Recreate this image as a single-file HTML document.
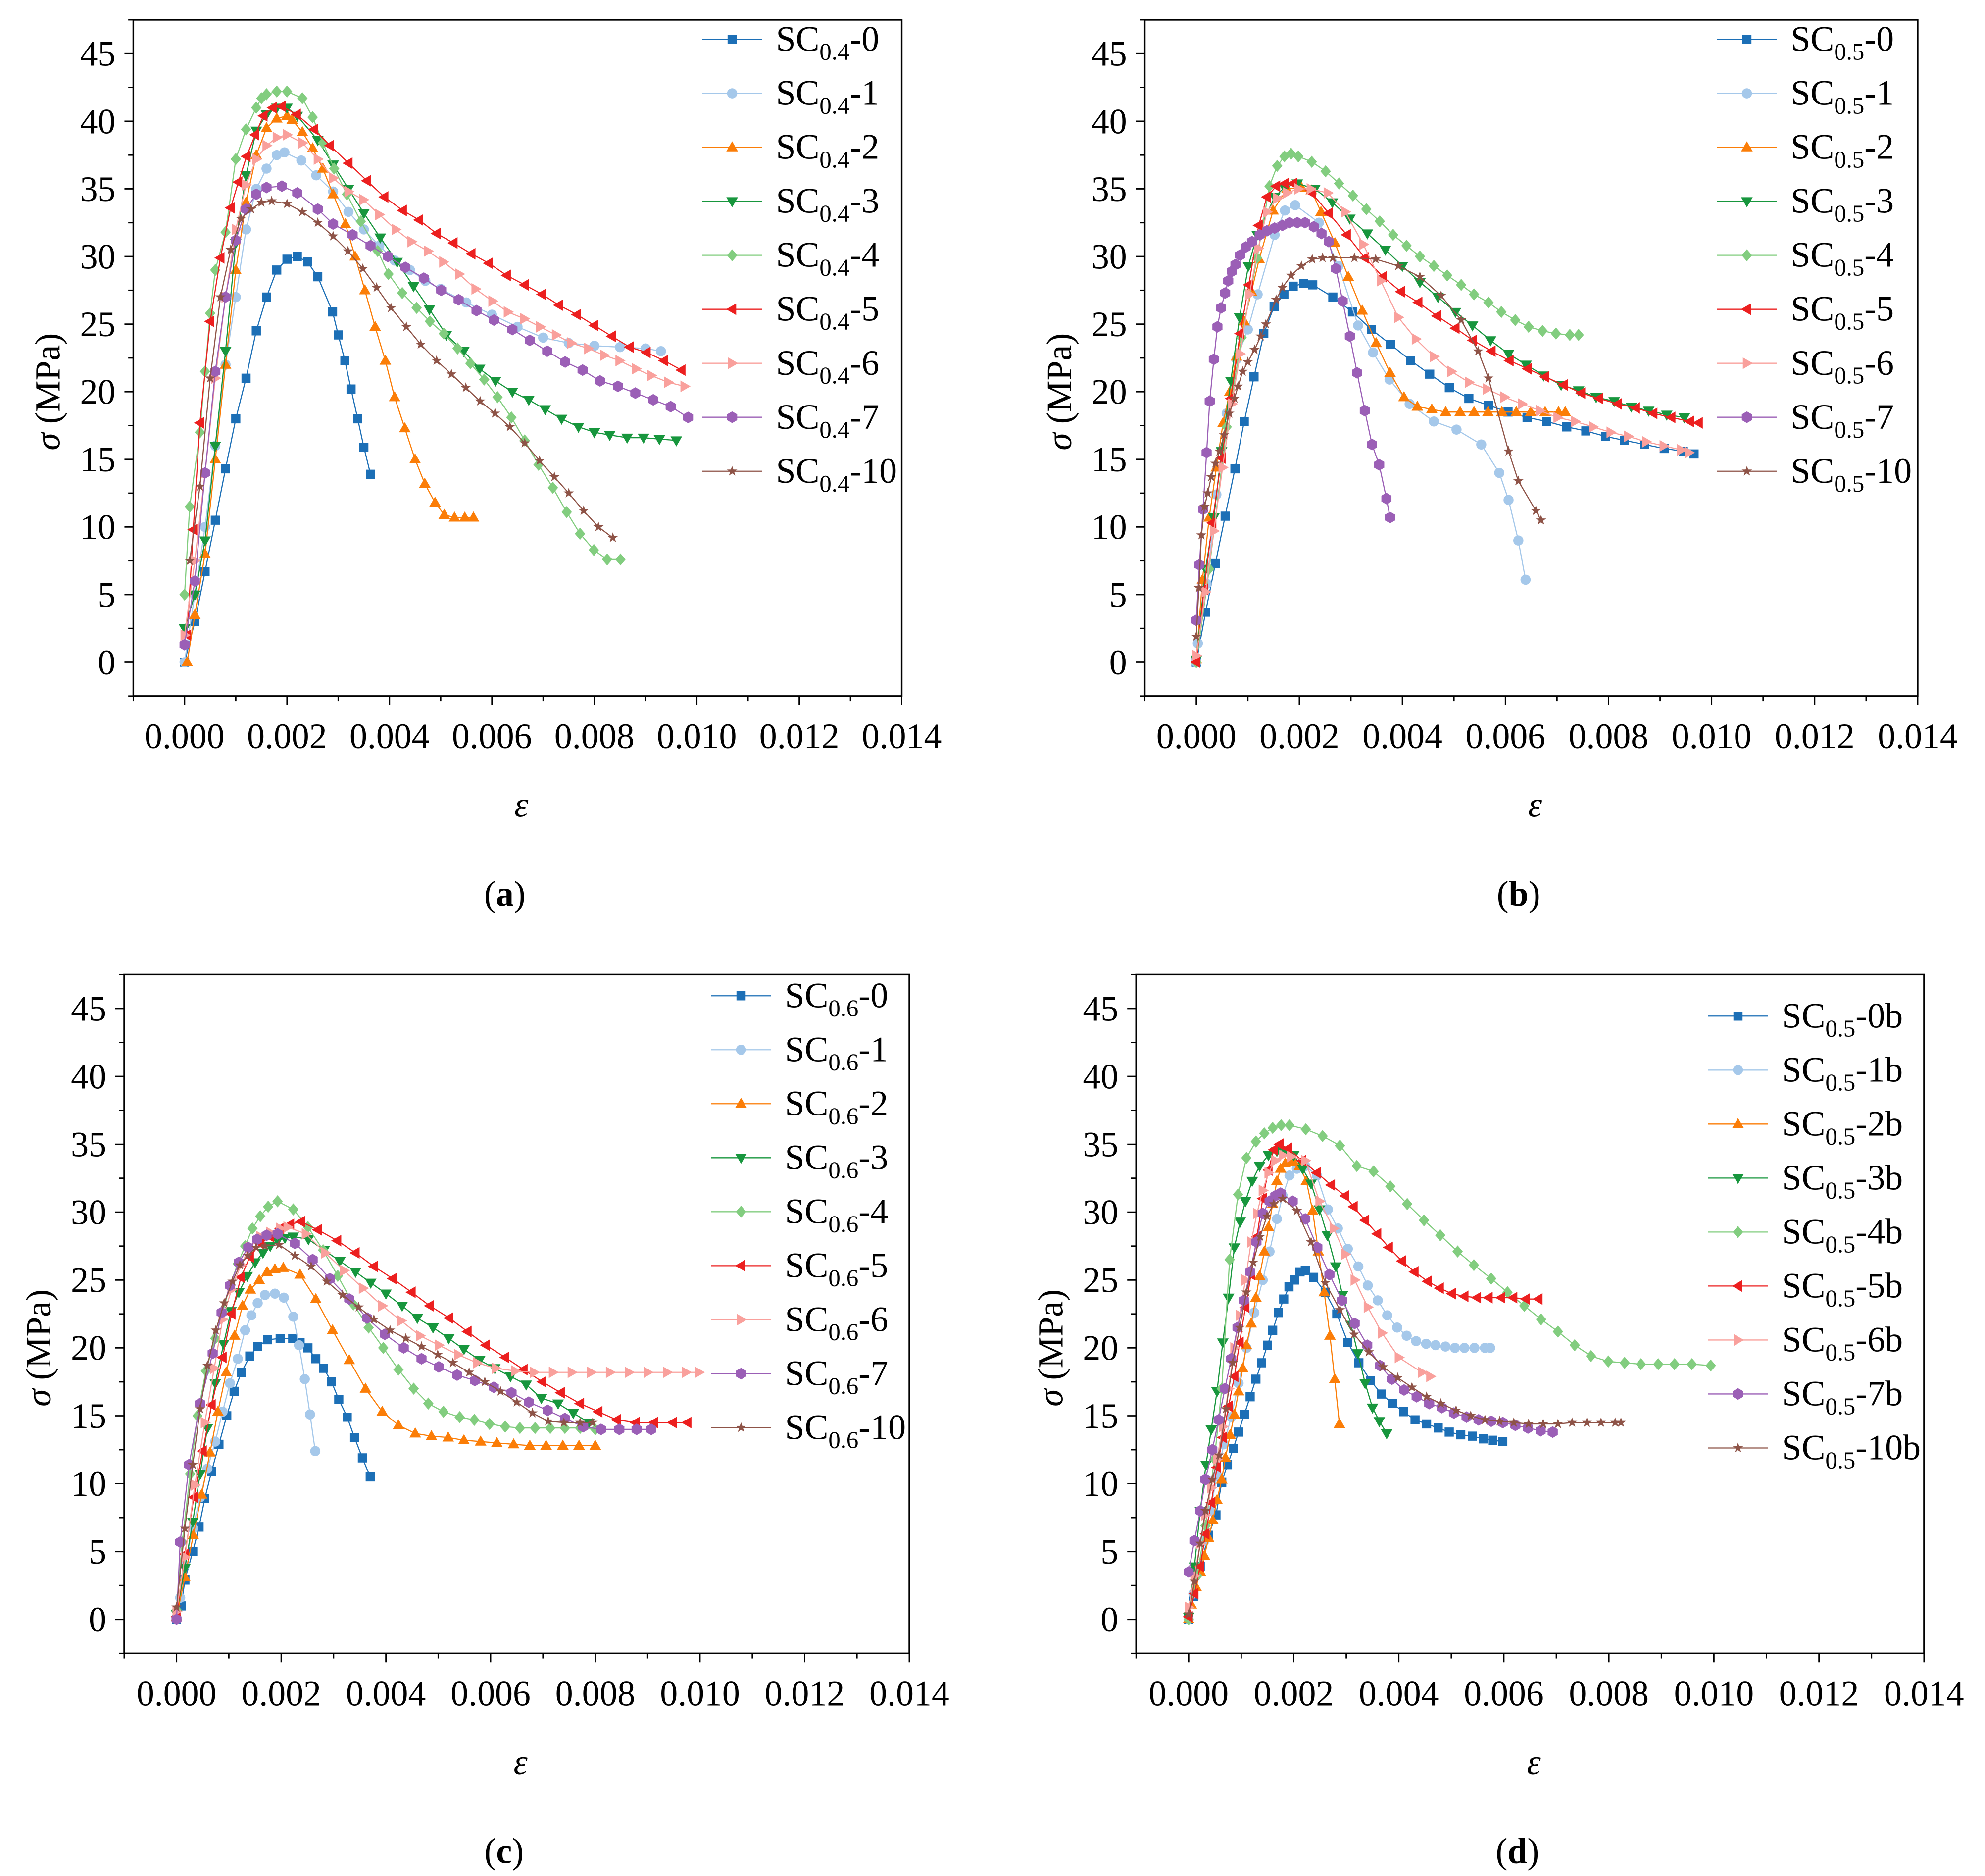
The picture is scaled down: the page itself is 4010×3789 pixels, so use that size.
<!DOCTYPE html>
<html><head><meta charset="utf-8"><title>Stress-strain curves</title>
<style>
html,body{margin:0;padding:0;background:#fff;}
svg{display:block;}
text{font-family:"Liberation Serif","Times New Roman",serif;fill:#000;}
</style></head>
<body>
<svg id="fig" xmlns="http://www.w3.org/2000/svg" width="4010" height="3789" viewBox="0 0 1563 1477" preserveAspectRatio="none">
<rect x="0" y="0" width="1563" height="1477" fill="#fff"/>
</svg>
<script>
// strain values are in units of 1e-3 (e.g. 2.0 => 0.002); stress in MPa
const xTickValues = [0, 2, 4, 6, 8, 10, 12, 14];
const xTickLabels = ["0.000","0.002","0.004","0.006","0.008","0.010","0.012","0.014"];
const yTickValues = [0, 5, 10, 15, 20, 25, 30, 35, 40, 45];
const yTickLabels = ["0","5","10","15","20","25","30","35","40","45"];
const seriesSuffix = ["0","1","2","3","4","5","6","7","10"];

// ---------- panel (a) SC0.4 ----------
const a_0 = [[0,0],[0.2,3],[0.4,6.7],[0.6,10.5],[0.8,14.3],[1.0,18],[1.2,21],[1.4,24.5],[1.6,27],[1.8,29],[2.0,29.8],[2.2,30],[2.4,29.6],[2.6,28.5],[2.89,25.9],[3.0,24.2],[3.13,22.3],[3.25,20.2],[3.38,18],[3.5,15.9],[3.63,13.9]];
const a_1 = [[0,0],[0.2,5],[0.4,10],[0.6,16],[0.8,22],[1.0,27],[1.2,32],[1.4,35],[1.6,36.5],[1.8,37.5],[1.95,37.7],[2.28,37.1],[2.57,36],[2.9,34.8],[3.2,33.3],[3.5,32],[3.8,30.8],[4.1,29.7],[4.4,29],[4.7,28.2],[5.0,27.6],[5.5,26.6],[6.0,25.7],[6.5,24.8],[7.0,24],[7.5,23.6],[8.0,23.4],[8.5,23.3],[9.0,23.2],[9.3,23]];
const a_2 = [[0.05,0],[0.2,3.5],[0.4,8],[0.6,15],[0.8,22],[1.0,29],[1.2,34],[1.4,37.5],[1.6,39.5],[1.8,40.2],[2.0,40.4],[2.1,40.1],[2.3,39.2],[2.5,38],[2.7,36.5],[2.9,34.6],[3.14,32.4],[3.33,30],[3.52,27.5],[3.72,24.8],[3.92,22.3],[4.1,19.6],[4.3,17.3],[4.5,15],[4.69,13.2],[4.89,11.8],[5.07,10.9],[5.27,10.7],[5.47,10.7],[5.64,10.7]];
const a_3 = [[0,2.5],[0.2,5],[0.4,9],[0.6,16],[0.8,23],[1.0,31],[1.2,36],[1.4,39.3],[1.6,40.5],[1.8,41],[2.0,41],[2.2,40.4],[2.6,38.6],[2.9,36.8],[3.2,35],[3.5,33.2],[3.82,31.4],[4.15,29.6],[4.47,27.8],[4.78,26.1],[5.11,24.2],[5.45,23],[5.76,21.7],[6.07,20.8],[6.4,20],[6.72,19.4],[7.04,18.7],[7.36,18],[7.69,17.4],[8.0,17],[8.3,16.8],[8.64,16.6],[8.96,16.6],[9.27,16.5],[9.6,16.4]];
const a_4 = [[0,5],[0.1,11.5],[0.3,17],[0.4,21.5],[0.5,25.8],[0.6,29],[0.8,31.8],[1.0,37.2],[1.2,39.4],[1.4,41],[1.5,41.7],[1.6,42],[1.8,42.2],[2.0,42.2],[2.3,41.7],[2.5,40.3],[2.7,38.4],[2.92,36.5],[3.17,34.6],[3.44,32.6],[3.77,30.4],[3.98,28.7],[4.25,27.3],[4.53,26.2],[4.79,25.2],[5.06,24.3],[5.33,23.2],[5.58,22.1],[5.85,20.9],[6.11,19.6],[6.38,18.1],[6.64,16.4],[6.91,14.6],[7.19,12.9],[7.46,11.1],[7.72,9.5],[7.99,8.3],[8.25,7.6],[8.51,7.6]];
const a_5 = [[0.05,2],[0.17,9.8],[0.3,17.7],[0.5,25.2],[0.7,29.9],[0.9,33.6],[1.05,35.5],[1.21,37.4],[1.38,39],[1.54,40.4],[1.72,41],[1.9,41.1],[2.19,40.5],[2.53,39.4],[2.84,38.2],[3.2,36.9],[3.56,35.6],[3.9,34.4],[4.26,33.4],[4.58,32.7],[4.92,31.7],[5.25,31],[5.6,30.2],[5.94,29.5],[6.29,28.6],[6.64,27.9],[6.98,27.2],[7.31,26.4],[7.66,25.7],[8.0,24.9],[8.34,24.1],[8.69,23.3],[9.02,22.9],[9.36,22.3],[9.7,21.6]];
const a_6 = [[0,2],[0.2,7.5],[0.4,14],[0.6,21],[0.8,27],[1.0,32],[1.2,35.3],[1.4,37.2],[1.6,38.2],[1.8,38.8],[2.0,39],[2.3,38.4],[2.6,37.2],[2.9,35.8],[3.2,34.8],[3.49,34.2],[3.8,33.1],[4.12,32],[4.43,31.1],[4.75,30.4],[5.05,29.6],[5.36,28.7],[5.68,27.6],[6.01,26.7],[6.31,25.9],[6.63,25.4],[6.94,24.8],[7.25,24.2],[7.55,23.6],[7.88,23.2],[8.19,22.7],[8.49,22.3],[8.81,21.7],[9.11,21.2],[9.44,20.7],[9.76,20.4]];
const a_7 = [[0,1.3],[0.2,6],[0.4,14],[0.6,21.5],[0.8,27],[1.0,31.2],[1.2,33.5],[1.4,34.6],[1.6,35.1],[1.9,35.2],[2.2,34.7],[2.6,33.5],[2.9,32.4],[3.28,31.6],[3.63,30.8],[3.97,30],[4.31,29.2],[4.67,28.4],[5.01,27.5],[5.35,26.8],[5.7,26],[6.04,25.3],[6.4,24.6],[6.74,23.8],[7.08,23],[7.43,22.2],[7.77,21.6],[8.11,20.8],[8.46,20.4],[8.8,19.9],[9.15,19.4],[9.49,18.9],[9.83,18.1]];
const a_10 = [[0.1,7.5],[0.3,13],[0.5,21],[0.7,27],[0.9,30.5],[1.1,32.8],[1.3,33.5],[1.5,34],[1.7,34.1],[2.0,33.9],[2.3,33.3],[2.6,32.5],[2.9,31.5],[3.19,30.4],[3.48,29.1],[3.75,27.7],[4.03,26.2],[4.33,24.8],[4.61,23.5],[4.92,22.3],[5.21,21.3],[5.49,20.3],[5.77,19.3],[6.06,18.4],[6.35,17.4],[6.64,16.2],[6.93,14.9],[7.22,13.7],[7.5,12.5],[7.79,11.2],[8.08,10],[8.36,9.2]];

// ---------- panel (b) SC0.5 ----------
const b_0 = [[0,0],[0.18,3.7],[0.37,7.3],[0.56,10.8],[0.75,14.3],[0.93,17.8],[1.12,21.1],[1.31,24.3],[1.51,26.3],[1.7,27.2],[1.88,27.8],[2.08,28],[2.26,27.9],[2.65,27],[3.03,25.9],[3.4,24.6],[3.77,23.5],[4.16,22.3],[4.53,21.3],[4.91,20.3],[5.29,19.5],[5.67,19],[6.05,18.5],[6.42,18.1],[6.8,17.8],[7.19,17.4],[7.56,17.1],[7.94,16.7],[8.31,16.4],[8.7,16.1],[9.08,15.8],[9.45,15.6],[9.66,15.4]];
const b_1 = [[0,0],[0.03,1.4],[0.2,5.8],[0.39,12.4],[0.59,18.4],[0.78,22.4],[1.0,24.6],[1.19,27.2],[1.52,31.6],[1.72,33.4],[1.92,33.8],[2.38,32.5],[2.76,29.3],[3.14,24.9],[3.43,22.9],[3.75,20.9],[4.14,19.1],[4.61,17.8],[5.05,17.2],[5.53,16.1],[5.88,14],[6.06,12],[6.25,9],[6.39,6.1]];
const b_2 = [[0,0.2],[0.12,6.1],[0.25,10.7],[0.39,14.4],[0.52,17.7],[0.65,20],[0.78,22.6],[0.93,25.2],[1.07,27.4],[1.22,29.8],[1.49,33.4],[1.76,35],[2.04,35.1],[2.23,34.9],[2.42,33.3],[2.69,31],[2.95,28.5],[3.22,26],[3.49,23.6],[3.76,21.4],[4.03,19.6],[4.29,18.9],[4.57,18.7],[4.84,18.5],[5.12,18.5],[5.39,18.5],[5.66,18.5],[5.93,18.5],[6.21,18.5],[6.49,18.5],[6.77,18.5],[7.03,18.5],[7.16,18.5]];
const b_3 = [[0,0.2],[0.18,6.9],[0.34,10.7],[0.49,15.6],[0.67,20.8],[0.84,25.5],[1.01,29.3],[1.18,31.6],[1.52,34.4],[1.71,35.1],[1.96,35.4],[2.3,35],[2.64,34],[2.98,32.8],[3.32,31.7],[3.67,30.5],[4.0,29.3],[4.34,28.1],[4.69,27],[5.03,25.9],[5.36,24.9],[5.71,23.8],[6.06,22.8],[6.4,22],[6.74,21.2],[7.08,20.5],[7.42,20.1],[7.76,19.6],[8.11,19.3],[8.44,18.9],[8.78,18.6],[9.13,18.3],[9.47,18.1]];
const b_4 = [[0,0],[0.25,6.9],[0.59,17.4],[0.88,24],[1.18,29.9],[1.42,35.2],[1.57,36.7],[1.71,37.4],[1.84,37.6],[1.98,37.4],[2.24,37],[2.51,36.3],[2.77,35.4],[3.04,34.5],[3.3,33.5],[3.56,32.6],[3.82,31.6],[4.08,30.8],[4.34,30],[4.61,29.3],[4.87,28.6],[5.14,27.9],[5.39,27.2],[5.67,26.6],[5.92,25.9],[6.19,25.3],[6.45,24.8],[6.72,24.5],[6.98,24.3],[7.25,24.2],[7.42,24.2]];
const b_5 = [[0,0],[0.15,5.4],[0.31,10.3],[0.49,15.1],[0.67,19.5],[0.85,24.3],[1.02,27.9],[1.21,32.3],[1.37,34.4],[1.55,35.2],[1.72,35.4],[1.88,35.4],[2.24,34.7],[2.57,33.2],[2.92,31.6],[3.27,29.9],[3.62,28.5],[3.97,27.4],[4.31,26.6],[4.67,25.6],[5.03,24.7],[5.37,23.8],[5.73,23],[6.08,22.3],[6.43,21.7],[6.77,21.1],[7.13,20.5],[7.47,19.9],[7.82,19.5],[8.18,19.1],[8.53,18.8],[8.87,18.4],[9.22,18.1],[9.58,17.8],[9.75,17.7]];
const b_6 = [[0,0.5],[0.18,5.2],[0.34,9.7],[0.51,14.4],[0.69,19.1],[0.85,22.8],[1.03,27.2],[1.2,30.6],[1.37,33.3],[1.57,34.3],[1.76,34.7],[1.98,35],[2.22,35],[2.55,34.7],[2.89,33.3],[3.24,30.9],[3.58,28.2],[3.92,25.5],[4.26,23.9],[4.61,22.6],[4.95,21.5],[5.29,20.7],[5.64,20.2],[5.98,19.6],[6.32,19.1],[6.67,18.6],[7.01,18.1],[7.35,17.8],[7.7,17.4],[8.04,17],[8.38,16.7],[8.73,16.3],[9.07,16],[9.41,15.7],[9.56,15.5]];
const b_7 = [[0,3.1],[0.06,7.2],[0.13,11.3],[0.2,15.5],[0.26,19.3],[0.34,22.4],[0.41,24.8],[0.48,26.2],[0.56,27.3],[0.62,28.2],[0.69,28.9],[0.76,29.4],[0.85,30.1],[0.96,30.7],[1.08,31.1],[1.23,31.6],[1.37,31.9],[1.52,32.1],[1.67,32.3],[1.81,32.5],[1.96,32.5],[2.11,32.5],[2.28,32.2],[2.43,31.7],[2.57,31.1],[2.71,29.1],[2.84,26.7],[2.98,24.1],[3.12,21.4],[3.27,18.6],[3.41,16.1],[3.55,14.6],[3.69,12.1],[3.76,10.7]];
const b_10 = [[0,1.9],[0.05,5.5],[0.1,9.4],[0.16,11.5],[0.22,12.5],[0.29,13.7],[0.37,14.7],[0.45,15.6],[0.54,16.8],[0.64,18.4],[0.74,19.5],[0.81,20.4],[0.9,21.5],[1.0,22.2],[1.13,23.1],[1.25,24.1],[1.35,25],[1.55,26.8],[1.67,27.7],[1.84,28.6],[2.04,29.3],[2.25,29.8],[2.45,29.9],[2.65,29.9],[3.07,29.9],[3.48,29.8],[3.92,29.3],[4.34,28.5],[4.75,27.1],[5.14,25.3],[5.47,23],[5.67,21],[6.06,15.6],[6.25,13.4],[6.59,11.2],[6.69,10.5]];

// ---------- panel (c) SC0.6 ----------
const c_0 = [[0,0],[0.09,1],[0.16,2.9],[0.31,5],[0.43,6.8],[0.54,8.9],[0.67,10.9],[0.81,12.9],[0.96,15],[1.1,16.8],[1.24,18.2],[1.4,19.4],[1.55,20.1],[1.74,20.6],[1.98,20.7],[2.22,20.7],[2.36,20.4],[2.51,20],[2.66,19.2],[2.81,18.5],[2.96,17.5],[3.1,16.2],[3.26,14.9],[3.4,13.4],[3.55,11.9],[3.7,10.5]];
const c_1 = [[0,0],[0.07,1.6],[0.16,4],[0.31,6.7],[0.45,9],[0.59,11.1],[0.74,13.1],[0.88,15.3],[1.02,17.4],[1.17,19.2],[1.31,21.3],[1.43,22.4],[1.55,23.3],[1.69,23.9],[1.88,24],[2.05,23.7],[2.23,22.3],[2.34,20.2],[2.45,17.7],[2.55,15.1],[2.65,12.4]];
const c_2 = [[0,0.2],[0.16,3.1],[0.32,6.2],[0.48,9.2],[0.64,12.3],[0.79,15.3],[0.95,18.2],[1.11,20.9],[1.26,23.1],[1.41,24.3],[1.58,25],[1.73,25.6],[1.88,25.8],[2.04,25.9],[2.36,25.4],[2.66,23.6],[2.98,21.3],[3.3,19.1],[3.61,17],[3.93,15.3],[4.24,14.3],[4.56,13.7],[4.87,13.5],[5.19,13.4],[5.49,13.2],[5.81,13.1],[6.12,13],[6.44,12.9],[6.75,12.8],[7.06,12.8],[7.38,12.8],[7.69,12.8],[8.0,12.8]];
const c_3 = [[0,0.4],[0.16,3.8],[0.31,7.2],[0.45,10.7],[0.59,14.1],[0.74,17.4],[0.9,20.3],[1.04,22.7],[1.19,24.1],[1.35,25.3],[1.5,26.3],[1.65,27],[1.79,27.5],[1.93,27.9],[2.07,28.1],[2.23,28.2],[2.52,28],[2.82,27.2],[3.12,26.4],[3.42,25.6],[3.71,24.8],[4.0,24],[4.31,23.1],[4.6,22.2],[4.9,21.5],[5.2,20.7],[5.49,19.9],[5.79,19.1],[6.08,18.5],[6.38,17.9],[6.68,17.3],[6.97,16.3],[7.29,15.9],[7.58,15.2],[7.88,14.5]];
const c_4 = [[0,0.7],[0.11,5.7],[0.26,10.7],[0.4,15],[0.56,18.3],[0.74,20.7],[0.88,22.6],[1.02,24.6],[1.17,26.2],[1.31,27.5],[1.45,28.8],[1.6,29.7],[1.75,30.4],[1.93,30.8],[2.23,30.2],[2.51,28.9],[2.8,27.2],[3.08,25.3],[3.38,23.2],[3.67,21.5],[3.95,20],[4.24,18.4],[4.53,17],[4.81,15.9],[5.1,15.3],[5.41,14.9],[5.69,14.7],[5.98,14.4],[6.28,14.2],[6.56,14.1],[6.85,14.1],[7.14,14.1],[7.42,14.1],[7.71,14.1],[8.0,14]];
const c_5 = [[0,0.2],[0.16,4.8],[0.33,9],[0.5,12.4],[0.67,15.8],[0.88,19.3],[1.05,22.5],[1.23,25.2],[1.4,26.7],[1.6,27.7],[1.79,28.2],[1.98,28.8],[2.17,29.1],[2.38,29.3],[2.7,28.7],[3.07,27.9],[3.42,27],[3.77,26],[4.13,25.1],[4.49,24.1],[4.84,23.1],[5.21,22.2],[5.56,21.2],[5.91,20.2],[6.28,19.3],[6.63,18.4],[6.99,17.5],[7.34,16.7],[7.71,15.9],[8.06,15.3],[8.41,14.7],[8.77,14.5],[9.12,14.5],[9.48,14.5],[9.76,14.5]];
const c_6 = [[0,0.6],[0.16,4.6],[0.35,9.9],[0.54,14.5],[0.72,18.5],[0.88,22.1],[1.05,24.3],[1.23,26.1],[1.4,27.4],[1.6,28.2],[1.79,28.5],[1.98,28.8],[2.12,28.9],[2.47,28.4],[2.84,27],[3.2,25.7],[3.56,24.4],[3.93,23.1],[4.29,22],[4.65,20.9],[5.01,20.2],[5.38,19.5],[5.74,18.9],[6.1,18.5],[6.47,18.3],[6.83,18.2],[7.19,18.2],[7.55,18.2],[7.92,18.2],[8.28,18.2],[8.64,18.2],[9.0,18.2],[9.37,18.2],[9.73,18.2],[9.98,18.2]];
const c_7 = [[0,0],[0.07,5.7],[0.24,11.4],[0.45,15.9],[0.69,19.6],[0.86,22.6],[1.02,24.6],[1.19,26.3],[1.37,27.4],[1.54,28],[1.72,28.3],[1.93,28.4],[2.26,27.7],[2.6,26.5],[2.93,25.1],[3.3,23.6],[3.64,22.2],[3.98,21],[4.34,20],[4.68,19.2],[5.01,18.6],[5.36,18],[5.7,17.6],[6.06,17.1],[6.4,16.7],[6.73,16],[7.09,15.4],[7.42,14.8],[7.77,14.2],[8.11,14],[8.46,14],[8.79,14],[9.07,14]];
const c_10 = [[0,0.9],[0.16,6.7],[0.31,11.4],[0.45,15.5],[0.59,18.7],[0.75,21.3],[0.91,23.3],[1.07,24.9],[1.21,26.1],[1.36,26.8],[1.52,27.4],[1.69,27.5],[1.96,27.6],[2.26,26.8],[2.57,26],[2.87,24.9],[3.17,23.9],[3.48,23],[3.77,22.1],[4.08,21.3],[4.38,20.7],[4.68,20.1],[4.99,19.5],[5.28,18.9],[5.59,18.2],[5.89,17.5],[6.19,16.8],[6.5,16],[6.8,15.2],[7.1,14.6],[7.4,14.5],[7.71,14.5],[7.95,14.5]];

// ---------- panel (d) SC0.5 b ----------
const d_0 = [[0,0],[0.09,1.7],[0.22,3.9],[0.38,6.2],[0.52,7.7],[0.63,10.1],[0.74,11.4],[0.85,12.6],[0.95,13.8],[1.06,15.1],[1.17,16.4],[1.28,17.7],[1.39,18.9],[1.5,20.2],[1.6,21.3],[1.71,22.6],[1.81,23.6],[1.91,24.5],[2.02,25],[2.12,25.6],[2.22,25.7],[2.38,25.2],[2.6,24.1],[2.82,22.5],[3.03,20.4],[3.24,18.9],[3.46,17.6],[3.67,16.6],[3.88,15.9],[4.09,15.3],[4.31,14.7],[4.53,14.4],[4.75,14.1],[4.96,13.8],[5.18,13.6],[5.4,13.5],[5.61,13.3],[5.79,13.2],[5.98,13.1]];
const d_1 = [[0,0],[0.09,1.9],[0.2,3.7],[0.3,5.8],[0.41,8],[0.54,10.6],[0.67,12.9],[0.81,14.9],[0.95,17.4],[1.1,20],[1.25,22.6],[1.41,25],[1.54,27.1],[1.68,29.5],[1.79,31.2],[1.92,32.7],[2.06,33.2],[2.22,33.4],[2.44,32.7],[2.65,30.2],[2.84,28.8],[3.03,27.3],[3.23,26],[3.41,24.6],[3.6,23.5],[3.78,22.4],[3.97,21.5],[4.15,20.9],[4.33,20.5],[4.52,20.3],[4.7,20.2],[4.89,20.1],[5.07,20],[5.25,20],[5.44,20],[5.64,20],[5.74,20]];
const d_2 = [[0,0],[0.05,1.1],[0.14,2.4],[0.22,3.5],[0.3,4.7],[0.38,6],[0.46,7.3],[0.54,8.8],[0.63,10.3],[0.7,11.9],[0.79,13.6],[0.87,15.1],[0.95,16.8],[1.03,18.5],[1.1,20.2],[1.19,21.8],[1.28,23.7],[1.35,25.3],[1.44,27.1],[1.52,28.9],[1.6,30.6],[1.68,32.3],[1.75,33.2],[1.84,33.6],[1.92,33.8],[2.0,33.7],[2.11,33.4],[2.24,32.3],[2.36,30.1],[2.47,27.1],[2.58,24.1],[2.69,20.9],[2.78,17.7],[2.87,14.4]];
const d_3 = [[0,0.2],[0.11,3.9],[0.22,8],[0.33,11.4],[0.43,14],[0.54,16.8],[0.65,20.4],[0.76,23.7],[0.87,27.4],[0.98,29.3],[1.08,30.8],[1.21,32.3],[1.35,33.4],[1.52,34.2],[1.68,34.5],[1.84,34.5],[2.0,34.2],[2.17,33.2],[2.33,32.1],[2.49,30.2],[2.64,28.3],[2.8,26],[2.93,23.9],[3.09,21.7],[3.22,19.6],[3.36,17.4],[3.5,15.6],[3.63,14.6],[3.77,13.7]];
const d_4 = [[0,0],[0.16,3.2],[0.32,6.9],[0.49,11.8],[0.63,17],[0.78,26.5],[0.94,31.3],[1.1,34],[1.28,35.2],[1.44,35.8],[1.6,36.2],[1.76,36.4],[1.92,36.4],[2.23,36.1],[2.55,35.6],[2.88,34.9],[3.2,33.4],[3.52,33],[3.84,31.9],[4.16,30.6],[4.48,29.4],[4.79,28.3],[5.12,27.1],[5.43,26.1],[5.76,25.1],[6.07,24.1],[6.39,23.1],[6.71,22.1],[7.03,21.2],[7.35,20.2],[7.66,19.4],[7.99,19],[8.3,18.9],[8.61,18.8],[8.94,18.8],[9.25,18.8],[9.58,18.8],[9.94,18.7]];
const d_5 = [[0,0.2],[0.11,1.9],[0.22,3.9],[0.32,6.3],[0.43,8.6],[0.54,11.2],[0.65,13.4],[0.76,15.7],[0.87,17.9],[0.97,20.4],[1.08,23],[1.19,25.4],[1.3,28.2],[1.41,31],[1.52,33.1],[1.62,34.6],[1.73,35],[1.89,34.7],[2.16,33.8],[2.44,32.9],[2.71,32],[2.98,31.2],[3.14,30.4],[3.36,29.4],[3.59,28.4],[3.81,27.4],[4.06,26.4],[4.3,25.6],[4.55,24.9],[4.78,24.4],[5.01,24],[5.25,23.8],[5.49,23.7],[5.71,23.7],[5.95,23.7],[6.18,23.7],[6.42,23.6],[6.66,23.6]];
const d_6 = [[0,0.9],[0.11,3.2],[0.22,5.6],[0.32,7.7],[0.43,9.7],[0.54,11.8],[0.65,14.2],[0.76,17],[0.87,20],[0.97,22.4],[1.08,25],[1.19,27.8],[1.3,29.9],[1.41,31.6],[1.52,32.9],[1.65,33.8],[1.79,34.2],[1.95,34.1],[2.22,33.8],[2.49,30.8],[2.76,28.8],[2.98,26.9],[3.16,25],[3.41,23],[3.68,21.1],[4.0,19.3],[4.44,18.2],[4.6,17.9]];
const d_7 = [[0,3.5],[0.11,5.8],[0.22,8],[0.32,10.3],[0.45,12.5],[0.57,14.7],[0.69,17],[0.81,19.2],[0.93,21.5],[1.05,23.5],[1.17,25.6],[1.29,27.8],[1.41,29.9],[1.54,30.8],[1.65,31.2],[1.75,31.4],[1.98,30.8],[2.22,29.5],[2.45,27.4],[2.68,25.4],[2.92,23.5],[3.16,21.8],[3.4,20.2],[3.64,18.7],[3.87,17.7],[4.1,16.9],[4.34,16.4],[4.58,15.9],[4.82,15.6],[5.05,15.2],[5.29,14.9],[5.52,14.7],[5.76,14.6],[5.98,14.5],[6.22,14.3],[6.46,14.1],[6.7,13.9],[6.93,13.8]];
const d_10 = [[0,0.4],[0.11,2.8],[0.22,5.6],[0.32,8],[0.45,10.3],[0.58,12.1],[0.71,15.5],[0.84,18.9],[0.97,21.5],[1.1,24.1],[1.23,26.3],[1.36,28.2],[1.49,29.7],[1.62,30.6],[1.79,31],[2.06,30.1],[2.33,27.8],[2.6,24.8],[2.88,22.8],[3.15,21],[3.43,19.7],[3.7,18.6],[3.98,17.8],[4.25,17.1],[4.53,16.4],[4.8,15.9],[5.09,15.4],[5.37,15],[5.64,14.7],[5.92,14.6],[6.19,14.5],[6.47,14.4],[6.75,14.4],[7.03,14.4],[7.3,14.5],[7.58,14.5],[7.85,14.5],[8.12,14.5],[8.23,14.5]];

const panelASeries = [a_0,a_1,a_2,a_3,a_4,a_5,a_6,a_7,a_10];
const panelBSeries = [b_0,b_1,b_2,b_3,b_4,b_5,b_6,b_7,b_10];
const panelCSeries = [c_0,c_1,c_2,c_3,c_4,c_5,c_6,c_7,c_10];
const panelDSeries = [d_0,d_1,d_2,d_3,d_4,d_5,d_6,d_7,d_10];

const COLORS = ["#1c6fb6","#a5c8ea","#fb7d07","#17963d","#82cd7f","#ec1f1f","#f9a09c","#9b5fb6","#8e5347"];
const MARKERS = ["square","circle","up","down","diamond","left","right","hex","star"];
const FONT = '"Liberation Serif","Times New Roman",serif';

const NS = "http://www.w3.org/2000/svg";
const svg = document.getElementById("fig");
function mk(tag, attrs, parent){
  const e = document.createElementNS(NS, tag);
  for (const k in attrs) e.setAttribute(k, attrs[k]);
  if (tag === "text") e.setAttribute("font-family", FONT);
  (parent||svg).appendChild(e);
  return e;
}
function markerPath(type, x, y){
  const s = 3.6;
  switch(type){
    case "square": return `M${x-s},${y-s}h${2*s}v${2*s}h${-2*s}z`;
    case "up": return `M${x},${y-4.8}L${x+4.6},${y+3.2}L${x-4.6},${y+3.2}z`;
    case "down": return `M${x},${y+4.8}L${x+4.6},${y-3.2}L${x-4.6},${y-3.2}z`;
    case "left": return `M${x-4.8},${y}L${x+3.2},${y-4.6}L${x+3.2},${y+4.6}z`;
    case "right": return `M${x+4.8},${y}L${x-3.2},${y-4.6}L${x-3.2},${y+4.6}z`;
    case "diamond": return `M${x},${y-4.8}L${x+4.1},${y}L${x},${y+4.8}L${x-4.1},${y}z`;
    case "hex": { let d=""; for(let i=0;i<6;i++){const a=Math.PI/3*i+Math.PI/6; d+=(i?"L":"M")+(x+4.6*Math.cos(a)).toFixed(2)+","+(y+4.6*Math.sin(a)).toFixed(2);} return d+"z"; }
    case "star": { let d=""; for(let i=0;i<10;i++){const r=i%2?1.7:4.3; const a=-Math.PI/2+Math.PI/5*i; d+=(i?"L":"M")+(x+r*Math.cos(a)).toFixed(2)+","+(y+r*Math.sin(a)).toFixed(2);} return d+"z"; }
  }
  return "";
}
function drawMarker(g, type, x, y, color){
  let m;
  if (type === "circle") m = mk("circle", {cx:x, cy:y, r:4, fill:color}, g);
  else m = mk("path", {d:markerPath(type,x,y), fill:color}, g);
  
  
  return m;
}

function drawPanel(cfg){
  const g = mk("g", {});
  
  
  const X = v => cfg.left + (v - (-1)) / 15 * (cfg.right - cfg.left);
  const Y = v => cfg.bottom - (v - (-2.5)) / 50 * (cfg.bottom - cfg.top);

  const frame = mk("rect", {x:cfg.left, y:cfg.top, width:cfg.right-cfg.left, height:cfg.bottom-cfg.top, fill:"none", stroke:"#000", "stroke-width":1.3}, g);
  
  

  for (let v = -1; v <= 14; v++) {
    const major = (v % 2 === 0);
    const t = mk("line", {x1:X(v), x2:X(v), y1:cfg.bottom, y2:cfg.bottom + (major?7:4), stroke:"#000", "stroke-width":1.1}, g);
    
    
  }
  xTickValues.forEach((v,i) => {
    const t = mk("text", {x:X(v), y:cfg.bottom + 41, "font-size":28, "text-anchor":"middle"}, g);
    t.textContent = xTickLabels[i];
    
    
  });
  for (let v = -2.5; v <= 47.5; v += 2.5) {
    const major = (Math.abs(v % 5) < 0.01) && v >= 0;
    const t = mk("line", {x1:cfg.left, x2:cfg.left - (major?7:4), y1:Y(v), y2:Y(v), stroke:"#000", "stroke-width":1.1}, g);
    
    
  }
  yTickValues.forEach((v,i) => {
    const t = mk("text", {x:cfg.left - 14, y:Y(v) + 9.5, "font-size":28, "text-anchor":"end"}, g);
    t.textContent = yTickLabels[i];
    
    
  });
  const xt = mk("text", {x:(cfg.left+cfg.right)/2 + 3, y:cfg.bottom + 95, "font-size":28, "font-style":"italic", "text-anchor":"middle"}, g);
  xt.textContent = "ε";
  
  
  const cy = Y(20);
  const yt = mk("text", {x:0, y:0, "font-size":28, "text-anchor":"middle", transform:`translate(${cfg.left-58},${cy}) rotate(-90)`}, g);
  const s1 = mk("tspan", {"font-style":"italic"}, yt); s1.textContent = "σ";
  const s2 = mk("tspan", {}, yt); s2.textContent = " (MPa)";
  
  
  const cap = mk("text", {x:(cfg.left+cfg.right)/2 - 10, y:cfg.bottom + 165, "font-size":28, "text-anchor":"middle"}, g);
  const c1 = mk("tspan", {}, cap); c1.textContent = "(";
  const c2 = mk("tspan", {"font-weight":"bold"}, cap); c2.textContent = cfg.id;
  const c3 = mk("tspan", {}, cap); c3.textContent = ")";
  
  

  cfg.series.forEach((data, si) => {
    const sg = mk("g", {}, g);
    
    
    const pts = data.map(p => X(p[0]).toFixed(2) + "," + Y(p[1]).toFixed(2)).join(" ");
    const pl = mk("polyline", {points:pts, fill:"none", stroke:COLORS[si], "stroke-width":0.9}, sg);
    
    
    data.forEach(p => drawMarker(sg, MARKERS[si], X(p[0]), Y(p[1]), COLORS[si]));
  });

  const lg = mk("g", {}, g);
  
  
  seriesSuffix.forEach((sfx, i) => {
    const yy = cfg.legY + i * 42.5;
    const eg = mk("g", {}, lg);
    
    
    mk("line", {x1:cfg.legX, x2:cfg.legX+47, y1:yy, y2:yy, stroke:COLORS[i], "stroke-width":0.9}, eg);
    drawMarker(eg, MARKERS[i], cfg.legX+23.5, yy, COLORS[i]);
    const t = mk("text", {x:cfg.legX+58, y:yy+9, "font-size":28}, eg);
    const p1 = mk("tspan", {}, t); p1.textContent = "SC";
    const p2 = mk("tspan", {"font-size":19, dy:7}, t); p2.textContent = cfg.prefix;
    const p3 = mk("tspan", {dy:-7}, t); p3.textContent = "-" + sfx + cfg.suffix;
  });
}

drawPanel({id:"a", left:105, right:710, top:15.6, bottom:548, prefix:"0.4", suffix:"", series:panelASeries, legX:553, legY:31});
drawPanel({id:"b", left:901.4, right:1510, top:15.6, bottom:548, prefix:"0.5", suffix:"", series:panelBSeries, legX:1352, legY:31});
drawPanel({id:"c", left:97.8, right:716, top:767.3, bottom:1301.7, prefix:"0.6", suffix:"", series:panelCSeries, legX:560, legY:784});
drawPanel({id:"d", left:894.6, right:1515, top:767.3, bottom:1301.7, prefix:"0.5", suffix:"b", series:panelDSeries, legX:1345, legY:800});
</script>
</body></html>
